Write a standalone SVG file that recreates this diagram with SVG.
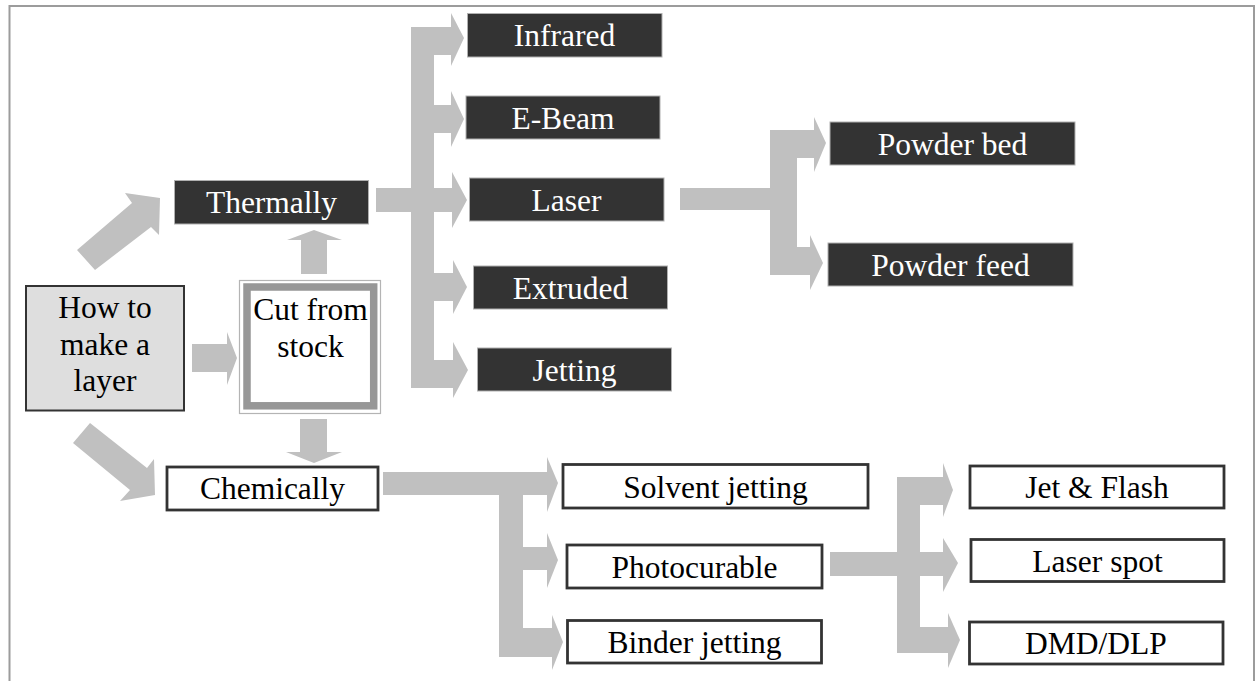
<svg xmlns="http://www.w3.org/2000/svg" width="1259" height="681" viewBox="0 0 1259 681">
<style>
.t{font-family:"Liberation Serif","Times New Roman",serif;font-size:31.5px;text-anchor:middle}
.dk rect{fill:#333333;stroke:#b0b0b0;stroke-width:1}
.dk text{fill:#ffffff}
.wh rect{fill:#ffffff;stroke:#333333;stroke-width:2.8}
.wh text{fill:#000000}
.ar{fill:#c0c0c0;stroke:none}
</style>
<rect x="0" y="0" width="1259" height="681" fill="#ffffff"/>
<rect id="frame" x="9.5" y="6" width="1244.5" height="720" fill="none" stroke="#9c9c9c" stroke-width="2"/>

<g id="connectors" class="ar">
  <!-- How -> Thermally (diagonal up) -->
  <polygon points="77,250 95,270 151,227 159,235 160,198 125,193 132,203"/>
  <!-- How -> Chemically (diagonal down) -->
  <polygon points="73,443 90,423 147,468 154,459 155,495 120,501 130,490"/>
  <!-- How -> Cut -->
  <polygon points="192,344 227,344 227,332 237,358 227,385 227,372 192,372"/>
  <!-- Cut -> Thermally (up) -->
  <polygon points="301,274 301,240 287,240 314,230 342,240 327,240 327,274"/>
  <!-- Cut -> Chemically (down) -->
  <polygon points="300,419 300,452 286,452 314,463 342,452 327,452 327,419"/>

  <!-- Thermal fork -->
  <rect x="376" y="188" width="36" height="24"/>
  <rect x="411" y="27" width="23" height="361"/>
  <rect x="411" y="27" width="41" height="28"/>
  <polygon points="451,13 464,38 451,66"/>
  <rect x="433" y="105" width="19" height="28"/>
  <polygon points="451,91 464,119 451,147"/>
  <rect x="433" y="188" width="20" height="24"/>
  <polygon points="452,172 467,200 452,228"/>
  <rect x="433" y="273" width="21" height="28"/>
  <polygon points="453,260 467,287 453,314"/>
  <rect x="411" y="360" width="43" height="28"/>
  <polygon points="453,342 468,370 453,398"/>

  <!-- Laser fork -->
  <rect x="680" y="188" width="91" height="22"/>
  <rect x="770" y="130" width="27" height="145"/>
  <rect x="770" y="130" width="45" height="28"/>
  <polygon points="814,117 826,143 814,172"/>
  <rect x="770" y="247" width="41" height="28"/>
  <polygon points="810,235 823,263 810,290"/>

  <!-- Chemical fork -->
  <rect x="383" y="472" width="165" height="23"/>
  <polygon points="547,457 558,483 547,512"/>
  <rect x="499" y="472" width="24" height="185"/>
  <rect x="522" y="547" width="26" height="23"/>
  <polygon points="547,533 558,560 547,588"/>
  <rect x="499" y="628" width="54" height="29"/>
  <polygon points="552,615 563,642 552,670"/>

  <!-- Photocurable fork -->
  <rect x="830" y="552" width="68" height="24"/>
  <rect x="897" y="477" width="23" height="176"/>
  <rect x="897" y="477" width="47" height="28"/>
  <polygon points="943,463 953,490 943,517"/>
  <rect x="919" y="552" width="25" height="24"/>
  <polygon points="943,538 958,563 943,592"/>
  <rect x="897" y="627" width="52" height="26"/>
  <polygon points="948,613 960,640 948,668"/>
</g>

<g id="how">
  <rect x="26" y="286" width="158" height="124.5" fill="#dedede" stroke="#333333" stroke-width="2"/>
  <text class="t" x="105" y="318">How to</text>
  <text class="t" x="105" y="355">make a</text>
  <text class="t" x="105" y="391">layer</text>
</g>

<g id="cut">
  <rect x="239.5" y="280.5" width="141" height="133" fill="#ffffff" stroke="#b4b4b4" stroke-width="1.2"/>
  <rect x="247" y="287" width="126.7" height="118.8" fill="#ffffff" stroke="#979797" stroke-width="7.5"/>
  <text class="t" x="310.5" y="320">Cut from</text>
  <text class="t" x="310.5" y="357">stock</text>
</g>

<g id="thermally" class="dk">
  <rect x="174.5" y="180.5" width="194" height="43.5"/>
  <text class="t" x="271.5" y="213">Thermally</text>
</g>
<g id="chemically" class="wh">
  <rect x="167" y="467" width="211" height="43"/>
  <text class="t" x="272.5" y="499">Chemically</text>
</g>

<g id="infrared" class="dk">
  <rect x="467.5" y="13.5" width="194.5" height="43.5"/>
  <text class="t" x="564.5" y="46">Infrared</text>
</g>
<g id="ebeam" class="dk">
  <rect x="466" y="96" width="194" height="43"/>
  <text class="t" x="563" y="128.5">E-Beam</text>
</g>
<g id="laser" class="dk">
  <rect x="469.5" y="178" width="194.5" height="43"/>
  <text class="t" x="566.5" y="210.5">Laser</text>
</g>
<g id="extruded" class="dk">
  <rect x="473.5" y="266" width="194" height="43"/>
  <text class="t" x="570.5" y="298.5">Extruded</text>
</g>
<g id="jetting" class="dk">
  <rect x="477.5" y="348" width="194" height="43"/>
  <text class="t" x="574.5" y="380.5">Jetting</text>
</g>

<g id="powderbed" class="dk">
  <rect x="830" y="122" width="245" height="43"/>
  <text class="t" x="952.5" y="154.5">Powder bed</text>
</g>
<g id="powderfeed" class="dk">
  <rect x="828" y="243" width="245" height="43"/>
  <text class="t" x="950.5" y="275.5">Powder feed</text>
</g>

<g id="solvent" class="wh">
  <rect x="563" y="464.5" width="305" height="43.5"/>
  <text class="t" x="715.5" y="497.5">Solvent jetting</text>
</g>
<g id="photocurable" class="wh">
  <rect x="567" y="545" width="255" height="43"/>
  <text class="t" x="694.5" y="577.5">Photocurable</text>
</g>
<g id="binder" class="wh">
  <rect x="567.5" y="620.5" width="254" height="42.5"/>
  <text class="t" x="694.5" y="653">Binder jetting</text>
</g>

<g id="jetflash" class="wh">
  <rect x="970" y="466" width="254" height="42"/>
  <text class="t" x="1097" y="498">Jet &amp; Flash</text>
</g>
<g id="laserspot" class="wh">
  <rect x="971" y="539.5" width="253" height="42"/>
  <text class="t" x="1097.5" y="571.5">Laser spot</text>
</g>
<g id="dmd" class="wh">
  <rect x="969.5" y="622" width="253.5" height="42"/>
  <text class="t" x="1096" y="654">DMD/DLP</text>
</g>
</svg>
